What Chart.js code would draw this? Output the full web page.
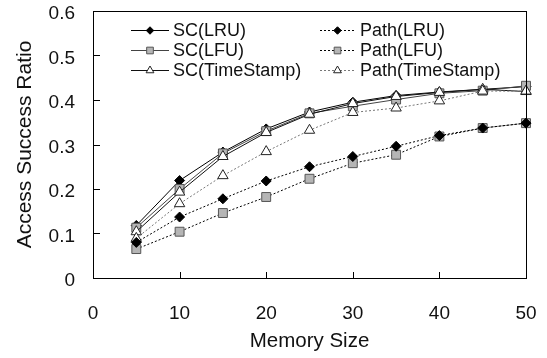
<!DOCTYPE html>
<html>
<head>
<meta charset="utf-8">
<script src="https://cdn.jsdelivr.net/npm/chart.js@4/dist/chart.umd.min.js"></script>
<style>
  html, body { margin: 0; padding: 0; background: #fff; }
  #wrap { width: 547px; height: 358px; position: relative; }
</style>
</head>
<body>
<div id="wrap"><canvas id="c" width="547" height="358"></canvas></div>
<script>
const memorySizes = [5, 10, 15, 20, 25, 30, 35, 40, 45, 50];
const scLRU  = [0.118, 0.219, 0.283, 0.335, 0.373, 0.395, 0.410, 0.418, 0.424, 0.430];
const scLFU  = [0.113, 0.200, 0.280, 0.330, 0.370, 0.386, 0.401, 0.415, 0.421, 0.432];
const scTS   = [0.104, 0.193, 0.273, 0.327, 0.368, 0.392, 0.408, 0.417, 0.424, 0.419];
const pathLRU = [0.080, 0.137, 0.178, 0.218, 0.250, 0.273, 0.296, 0.320, 0.337, 0.348];
const pathLFU = [0.065, 0.104, 0.146, 0.182, 0.223, 0.258, 0.277, 0.318, 0.337, 0.348];
const pathTS  = [0.089, 0.167, 0.230, 0.284, 0.332, 0.372, 0.382, 0.398, 0.420, 0.420];
const seriesNames = ['SC(LRU)', 'SC(LFU)', 'SC(TimeStamp)', 'Path(LRU)', 'Path(LFU)', 'Path(TimeStamp)'];
const xTicks = [0, 10, 20, 30, 40, 50];
const yTicks = [0, 0.1, 0.2, 0.3, 0.4, 0.5, 0.6];

const FONT = "'Liberation Sans', Arial, sans-serif";
const pts = arr => arr.map((v, i) => ({x: memorySizes[i], y: v}));

function ds(label, values, style) {
  return Object.assign({
    label, data: pts(values), clip: false, borderWidth: 1,
    pointBorderWidth: 1, tension: 0, fill: false
  }, style);
}
const diamond = {pointStyle: 'rectRot', pointRadius: 5, pointBackgroundColor: '#000', pointBorderColor: '#000'};
const square = {pointStyle: 'rect', pointRadius: 6.3, pointBackgroundColor: '#b5b5b5', pointBorderColor: '#555'};
const tri = {pointStyle: 'triangle', pointRadius: 6, pointBackgroundColor: '#fff', pointBorderColor: '#222'};

const datasets = [
  ds(seriesNames[3], pathLRU, Object.assign({borderColor: '#000', borderDash: [2, 2]}, diamond)),
  ds(seriesNames[4], pathLFU, Object.assign({borderColor: '#000', borderDash: [2, 2]}, square)),
  ds(seriesNames[5], pathTS, Object.assign({borderColor: '#777', borderDash: [2, 2]}, tri)),
  ds(seriesNames[2], scTS, Object.assign({borderColor: '#111'}, tri)),
  ds(seriesNames[1], scLFU, Object.assign({borderColor: '#444'}, square)),
  ds(seriesNames[0], scLRU, Object.assign({borderColor: '#000'}, diamond)),
];

function drawMarker(ctx, style, x, y, r, fill, stroke) {
  ctx.save();
  ctx.beginPath();
  if (style === 'rectRot') {
    ctx.moveTo(x - r, y); ctx.lineTo(x, y - r); ctx.lineTo(x + r, y); ctx.lineTo(x, y + r);
  } else if (style === 'rect') {
    const s = r * Math.SQRT1_2;
    ctx.rect(x - s, y - s, 2 * s, 2 * s);
  } else {
    ctx.moveTo(x, y - r);
    ctx.lineTo(x + r * Math.sin(2 * Math.PI / 3), y - r * Math.cos(2 * Math.PI / 3));
    ctx.lineTo(x + r * Math.sin(4 * Math.PI / 3), y - r * Math.cos(4 * Math.PI / 3));
  }
  ctx.closePath();
  ctx.fillStyle = fill; ctx.fill();
  ctx.lineWidth = 1; ctx.strokeStyle = stroke; ctx.stroke();
  ctx.restore();
}

// plot frame + inward ticks, positioned by the chart's own scales
const framePlugin = {
  id: 'plotFrame',
  afterDraw(chart) {
    const ctx = chart.ctx;
    const a = chart.chartArea;
    const sx = chart.scales.x, sy = chart.scales.y;
    const L = Math.round(a.left), T = Math.round(a.top);
    const R = Math.round(a.right), B = Math.round(a.bottom);
    ctx.save();
    ctx.fillStyle = '#000';
    ctx.fillRect(L, T, R - L + 1, 1);
    ctx.fillRect(L, B, R - L + 1, 1);
    ctx.fillRect(L, T, 1, B - T + 1);
    ctx.fillRect(R, T, 1, B - T + 1);
    xTicks.forEach(v => {
      const px = Math.round(sx.getPixelForValue(v));
      ctx.fillRect(px, B - 6, 1, 6);
    });
    yTicks.forEach(v => {
      const py = Math.round(sy.getPixelForValue(v));
      ctx.fillRect(L, py, 7, 1);
    });
    ctx.restore();
  }
};

const legendPlugin = {
  id: 'customLegend',
  afterDraw(chart) {
    const ctx = chart.ctx;
    const cols = [{x0: 131, x1: 169, tx: 173}, {x0: 320, x1: 355, tx: 360}];
    const rowY = [30, 50, 70];
    seriesNames.forEach((name, i) => {
      const d = chart.data.datasets.find(s => s.label === name);
      const c = cols[Math.floor(i / 3)];
      const y = rowY[i % 3];
      ctx.save();
      ctx.strokeStyle = d.borderColor;
      ctx.lineWidth = 1;
      ctx.setLineDash(d.borderDash || []);
      ctx.beginPath();
      ctx.moveTo(c.x0, y + 0.5); ctx.lineTo(c.x1, y + 0.5);
      ctx.stroke();
      ctx.restore();
      drawMarker(ctx, d.pointStyle, (c.x0 + c.x1) / 2, y + 0.5, d.pointRadius * 0.75,
                 d.pointBackgroundColor, d.pointBorderColor);
      ctx.save();
      ctx.fillStyle = '#111';
      ctx.font = '18px ' + FONT;
      ctx.textBaseline = 'middle';
      ctx.textAlign = 'left';
      ctx.fillText(name, c.tx, y + 1);
      ctx.restore();
    });
  }
};

new Chart(document.getElementById('c'), {
  type: 'line',
  data: {datasets},
  plugins: [framePlugin, legendPlugin],
  options: {
    responsive: false,
    animation: false,
    devicePixelRatio: 1,
    layout: {padding: {top: 11, right: 21, left: 0, bottom: 0}},
    plugins: {legend: {display: false}, tooltip: {enabled: false}},
    scales: {
      x: {
        type: 'linear', position: 'bottom', min: 0, max: 50,
        afterBuildTicks: s => { s.ticks = xTicks.map(v => ({value: v})); },
        afterFit: s => { s.height = 80; s.paddingLeft = 0; s.paddingRight = 0; },
        grid: {display: false, drawTicks: false},
        border: {display: true, color: '#000', width: 1},
        ticks: {padding: 24, color: '#111', font: {family: FONT, size: 19}, maxRotation: 0},
        title: {display: true, text: 'Memory Size', color: '#111',
                font: {family: FONT, size: 20.5}, padding: {top: 0, bottom: 4}}
      },
      y: {
        type: 'linear', position: 'left', min: 0, max: 0.6,
        afterBuildTicks: s => { s.ticks = yTicks.map(v => ({value: v})); },
        afterFit: s => { s.width = 93; s.paddingTop = 0; s.paddingBottom = 0; },
        grid: {display: false, drawTicks: false},
        border: {display: true, color: '#000', width: 1},
        ticks: {padding: 18, color: '#111', labelOffset: 3, font: {family: FONT, size: 19},
                callback: v => String(Math.round(v * 10) / 10)},
        title: {display: true, text: 'Access Success Ratio', color: '#111',
                font: {family: FONT, size: 21}, padding: {top: 13, bottom: 0}}
      }
    }
  }
});
</script>
</body>
</html>
